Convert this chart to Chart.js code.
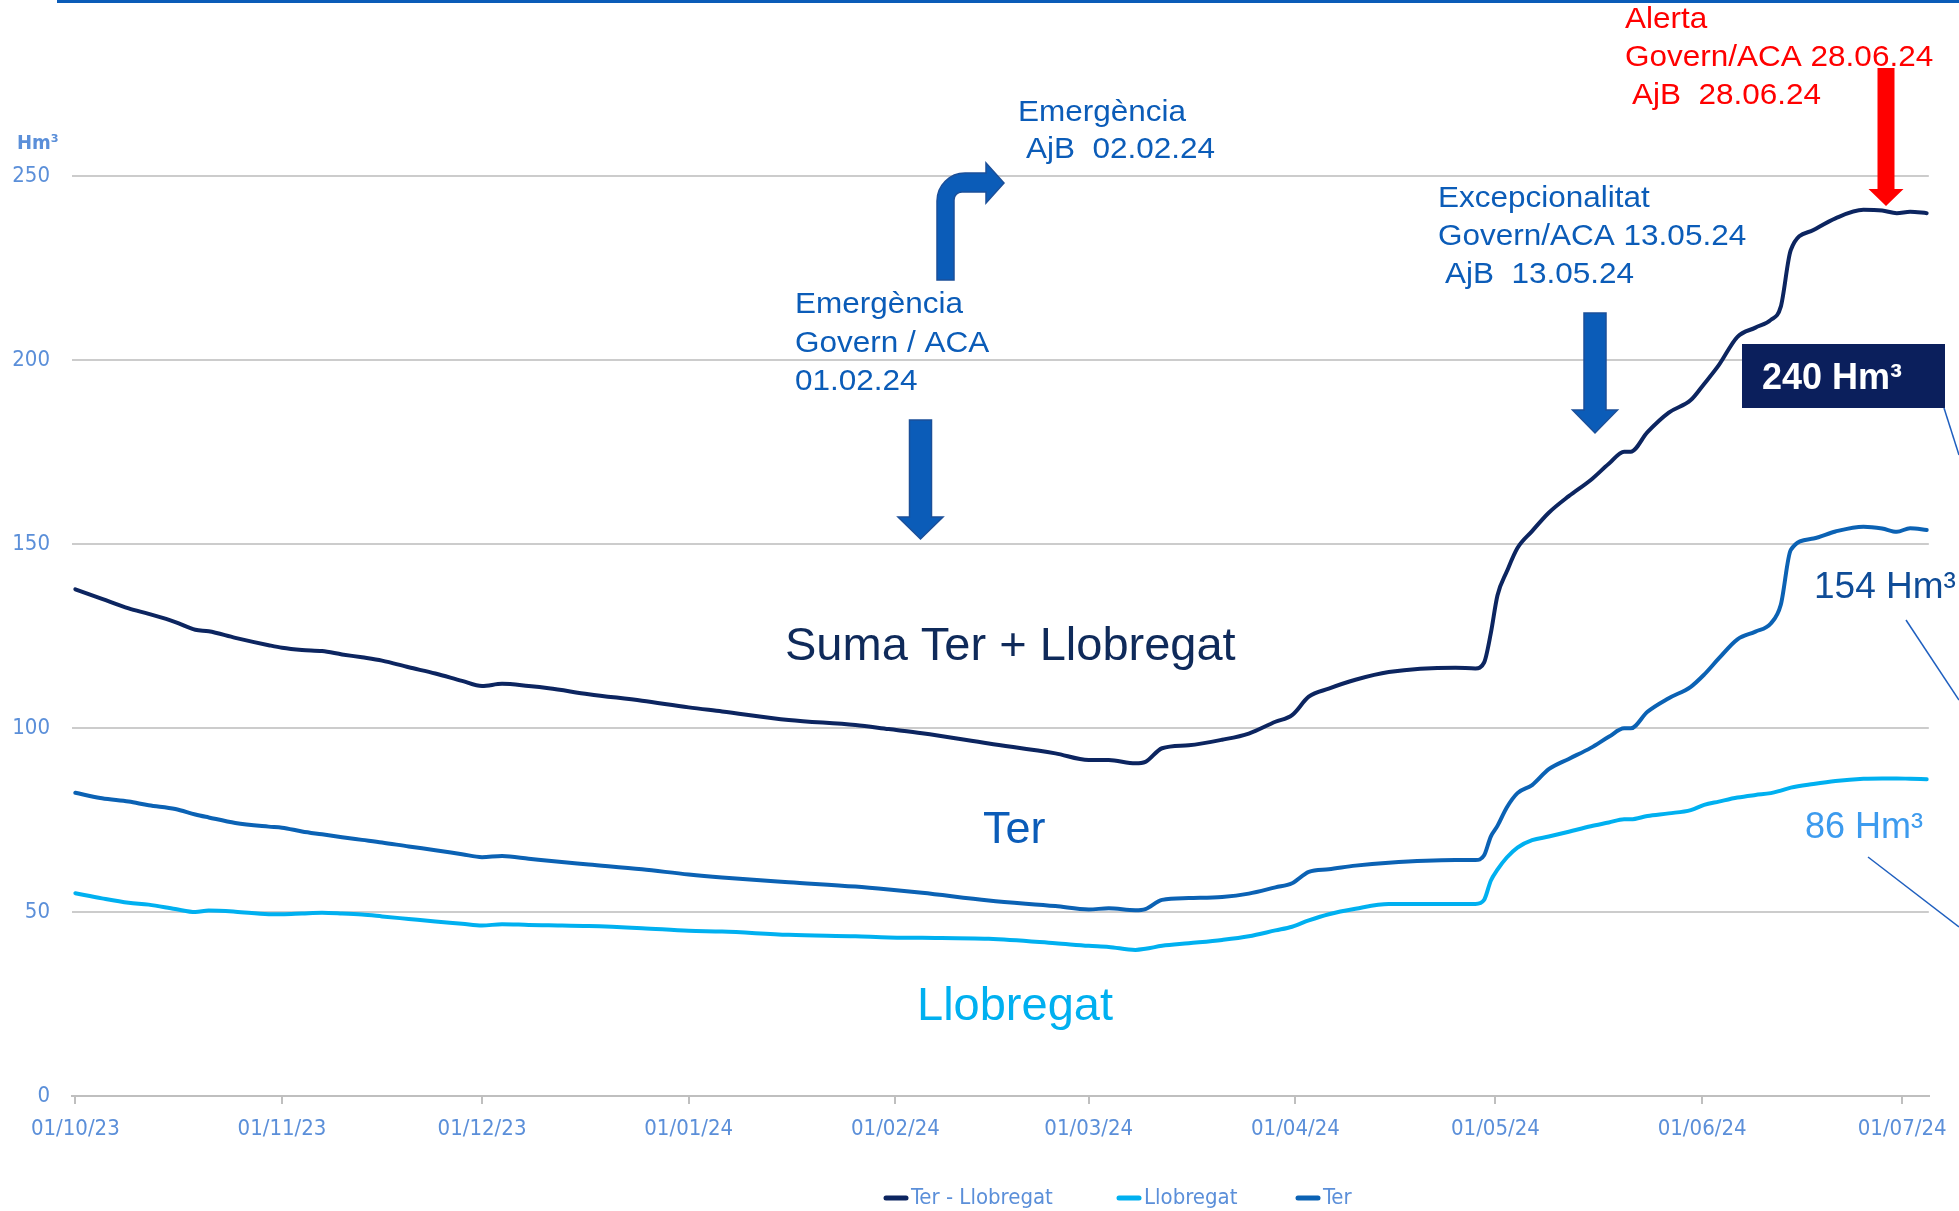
<!DOCTYPE html>
<html>
<head>
<meta charset="utf-8">
<script src="https://cdn.jsdelivr.net/npm/chart.js@4.4.1/dist/chart.umd.min.js"></script>
<style>
  html, body { margin: 0; padding: 0; background: #fff; }
  #wrap { width: 1959px; height: 1211px; position: relative; }
</style>
</head>
<body>
<div id="wrap"><canvas id="chart" width="1959" height="1211"></canvas></div>
<script>
// days counted from 01/10/23
const tickDays = [0, 31, 61, 92, 123, 152, 183, 213, 244, 274];
const tickLabels = ['01/10/23', '01/11/23', '01/12/23', '01/01/24', '01/02/24', '01/03/24', '01/04/24', '01/05/24', '01/06/24', '01/07/24'];
const seriesNames = ['Ter - Llobregat', 'Llobregat', 'Ter'];

const days = [0, 4, 8, 11, 15, 18, 20, 24, 29, 31, 34, 37, 40, 43, 46, 50, 54, 58, 61, 64,
  68, 71, 77, 85, 92, 97, 107, 117, 122, 127, 137, 147, 152, 155, 159, 160.5, 163, 167, 172, 176,
  180, 182.5, 185, 188, 192, 197, 207, 210, 211.3, 212.3, 213.3, 214.7, 216.3, 218.5, 221, 224, 227.3, 230, 232.3, 233.3,
  235.8, 239, 242.3, 244.3, 246.5, 249.3, 252, 254.3, 255.8, 257.3, 260.7, 264, 268.2, 271, 273.2, 275.2, 277.7];

const terLlobregat = [137.7, 135.1, 132.5, 131, 128.8, 126.7, 126.3, 124.5, 122.5, 121.8, 121.2, 120.9, 120, 119.2, 118.3, 116.5, 114.8, 112.8, 111.4, 112,
  111.4, 110.8, 109.2, 107.4, 105.6, 104.5, 102.2, 100.8, 99.7, 98.6, 95.8, 93.1, 91.3, 91.3, 90.4, 90.8, 94.5, 95.3, 96.8, 98.5,
  101.7, 103.5, 108.5, 110.7, 113.1, 115.2, 116.4, 116.2, 117.8, 125.7, 136, 142.5, 148.9, 153.5, 158.5, 163, 167.4, 171.8, 175.1, 175.1,
  180.4, 185.7, 189.1, 193.5, 198.6, 206.3, 208.8, 210.9, 214.5, 229.9, 235.3, 238.5, 240.8, 240.6, 239.9, 240.3, 239.9];

const ter = [82.4, 80.9, 80, 79, 78, 76.5, 75.7, 74.2, 73.2, 72.9, 71.9, 71.1, 70.3, 69.6, 68.9, 67.8, 66.8, 65.7, 64.9, 65.2,
  64.5, 63.9, 62.9, 61.6, 60.2, 59.4, 58.1, 56.9, 56.1, 55.2, 53.1, 51.6, 50.7, 51, 50.5, 50.8, 53.3, 53.8, 54.1, 55,
  56.7, 57.8, 60.9, 61.6, 62.6, 63.4, 64.1, 64.1, 65.4, 70.5, 73.4, 78.4, 82.3, 84.5, 88.8, 91.6, 94.6, 97.6, 99.9, 99.9,
  104.4, 108.1, 111.2, 114.5, 118.9, 124.1, 126.2, 128.4, 133.5, 148.4, 151.5, 153.4, 154.7, 154.2, 153.3, 154.3, 153.8];

const llobregat = [55.1, 53.7, 52.5, 52, 50.8, 50, 50.4, 50.1, 49.4, 49.4, 49.6, 49.8, 49.6, 49.3, 48.8, 48.1, 47.4, 46.8, 46.3, 46.7,
  46.5, 46.4, 46.2, 45.6, 44.9, 44.7, 43.8, 43.4, 43.1, 43, 42.7, 41.5, 40.8, 40.5, 39.7, 40, 40.8, 41.5, 42.4, 43.4,
  45, 46, 47.7, 49.4, 50.9, 52.2, 52.2, 52.2, 53.3, 58.5, 61.5, 64.8, 67.5, 69.5, 70.5, 71.8, 73.3, 74.3, 75.2, 75.2,
  76.1, 76.8, 77.7, 79.1, 80, 81.1, 81.8, 82.3, 83, 83.8, 84.8, 85.6, 86.2, 86.3, 86.3, 86.2, 86.1];

const colors = ['#0c2560', '#00b0f0', '#0b62b4'];
const tickFont = "'DejaVu Sans Condensed', 'Liberation Sans Narrow', 'DejaVu Sans', sans-serif";
const textFont = "'Liberation Sans', Arial, sans-serif";
const tickColor = '#5b8fd9';
const annBlue = '#0b5cb8';

function toPoints(vals) {
  return vals.map((v, i) => ({ x: days[i], y: v }));
}

function text(ctx, str, x, y, font, color, sx) {
  ctx.save();
  ctx.font = font;
  ctx.fillStyle = color;
  ctx.textBaseline = 'alphabetic';
  ctx.textAlign = 'left';
  ctx.translate(x, y);
  ctx.scale(sx || 1, 1);
  ctx.fillText(str, 0, 0);
  ctx.restore();
}

function downArrow(ctx, cx, top, shaftW, headW, headTop, tip, fill, stroke) {
  ctx.save();
  ctx.beginPath();
  ctx.moveTo(cx - shaftW / 2, top);
  ctx.lineTo(cx + shaftW / 2, top);
  ctx.lineTo(cx + shaftW / 2, headTop);
  ctx.lineTo(cx + headW / 2, headTop);
  ctx.lineTo(cx, tip);
  ctx.lineTo(cx - headW / 2, headTop);
  ctx.lineTo(cx - shaftW / 2, headTop);
  ctx.closePath();
  ctx.fillStyle = fill;
  ctx.fill();
  if (stroke) { ctx.strokeStyle = stroke; ctx.lineWidth = 1.5; ctx.stroke(); }
  ctx.restore();
}

const annotate = {
  id: 'annotate',
  afterDraw(chart) {
    const ctx = chart.ctx;
    const f30 = '30px ' + textFont;

    // top rule
    ctx.fillStyle = '#0a5cb8';
    ctx.fillRect(57, 0, 1902, 3);

    // unit
    text(ctx, 'Hm³', 17, 149, 'bold 20px ' + tickFont, tickColor);

    // Emergència AjB + bent arrow
    text(ctx, 'Emergència', 1018, 121, f30, annBlue, 1.05);
    text(ctx, 'AjB  02.02.24', 1026, 158, f30, annBlue, 1.05);
    ctx.save();
    ctx.beginPath();
    ctx.moveTo(937, 280);
    ctx.lineTo(937, 201);
    ctx.arcTo(937, 173, 965, 173, 28);
    ctx.lineTo(986, 173);
    ctx.lineTo(986, 163);
    ctx.lineTo(1004, 183);
    ctx.lineTo(986, 203);
    ctx.lineTo(986, 192);
    ctx.lineTo(962, 192);
    ctx.arcTo(954, 192, 954, 200, 8);
    ctx.lineTo(954, 280);
    ctx.closePath();
    ctx.fillStyle = annBlue;
    ctx.fill();
    ctx.strokeStyle = '#1b4f99';
    ctx.lineWidth = 1.5;
    ctx.stroke();
    ctx.restore();

    // Emergència Govern / ACA
    text(ctx, 'Emergència', 795, 313, f30, annBlue, 1.05);
    text(ctx, 'Govern / ACA', 795, 352, f30, annBlue, 1.05);
    text(ctx, '01.02.24', 795, 390, f30, annBlue, 1.05);
    downArrow(ctx, 920.5, 420, 22, 45, 517, 539, annBlue, '#1b4f99');

    // Excepcionalitat
    text(ctx, 'Excepcionalitat', 1438, 207, f30, annBlue, 1.05);
    text(ctx, 'Govern/ACA 13.05.24', 1438, 245, f30, annBlue, 1.05);
    text(ctx, 'AjB  13.05.24', 1445, 283, f30, annBlue, 1.05);
    downArrow(ctx, 1595, 313, 22, 45, 410, 433, annBlue, '#1b4f99');

    // Alerta
    text(ctx, 'Alerta', 1625, 28, f30, '#ff0000', 1.05);
    text(ctx, 'Govern/ACA 28.06.24', 1625, 66, f30, '#ff0000', 1.05);
    text(ctx, 'AjB  28.06.24', 1632, 104, f30, '#ff0000', 1.05);
    downArrow(ctx, 1886, 68, 17, 35, 189, 206, '#ff0000');

    // series captions
    text(ctx, 'Suma Ter + Llobregat', 785, 660, '47px ' + textFont, '#0f2a5a');
    text(ctx, 'Ter', 983, 843, '45px ' + textFont, '#0b5cb8');
    text(ctx, 'Llobregat', 917, 1020, '47px ' + textFont, '#00b0f0');

    // end values
    ctx.fillStyle = '#0b1f5c';
    ctx.fillRect(1742, 344, 203, 64);
    text(ctx, '240 Hm³', 1762, 389, 'bold 36px ' + textFont, '#ffffff');
    text(ctx, '154 Hm³', 1814, 598, '37px ' + textFont, '#0f4c97');
    text(ctx, '86 Hm³', 1805, 838, '36px ' + textFont, '#3d9bee');

    ctx.save();
    ctx.strokeStyle = '#1f5fbf';
    ctx.lineWidth = 1.5;
    [[1944, 408, 1959, 455], [1906, 620, 1959, 700], [1868, 857, 1959, 927]].forEach(l => {
      ctx.beginPath(); ctx.moveTo(l[0], l[1]); ctx.lineTo(l[2], l[3]); ctx.stroke();
    });
    ctx.restore();

    // legend
    const legendX = [883, 1116, 1295];
    const legendY = 1198;
    chart.data.datasets.forEach((ds, i) => {
      ctx.save();
      ctx.strokeStyle = ds.borderColor;
      ctx.lineWidth = 5;
      ctx.lineCap = 'round';
      ctx.beginPath();
      ctx.moveTo(legendX[i] + 3, legendY);
      ctx.lineTo(legendX[i] + 23, legendY);
      ctx.stroke();
      ctx.font = '22px ' + tickFont;
      ctx.fillStyle = tickColor;
      ctx.textBaseline = 'middle';
      ctx.fillText(ds.label, legendX[i] + 28, legendY);
      ctx.restore();
    });
  }
};

const ctx = document.getElementById('chart').getContext('2d');
const chart = new Chart(ctx, {
  type: 'line',
  data: {
    datasets: [
      { label: seriesNames[0], data: toPoints(terLlobregat), borderColor: colors[0] },
      { label: seriesNames[1], data: toPoints(llobregat), borderColor: colors[1] },
      { label: seriesNames[2], data: toPoints(ter), borderColor: colors[2] }
    ].map(d => Object.assign(d, {
      backgroundColor: d.borderColor,
      borderWidth: 4,
      pointRadius: 0,
      cubicInterpolationMode: 'monotone',
      borderCapStyle: 'round',
      borderJoinStyle: 'round',
      fill: false
    }))
  },
  options: {
    responsive: false,
    animation: false,
    devicePixelRatio: 1,
    layout: { padding: { top: 176, right: 29, bottom: 55, left: 0 } },
    plugins: {
      legend: { display: false },
      tooltip: { enabled: false }
    },
    scales: {
      x: {
        type: 'linear',
        min: -0.5,
        max: 278,
        afterBuildTicks(scale) {
          scale.ticks = tickDays.map(v => ({ value: v }));
        },
        afterFit(scale) { scale.height = 60; },
        ticks: {
          autoSkip: false,
          maxRotation: 0,
          padding: 12,
          color: tickColor,
          font: { family: tickFont, size: 22 },
          callback: (v, i) => tickLabels[i]
        },
        grid: { drawOnChartArea: false, tickLength: 8, color: '#bfbfbf', lineWidth: 2 },
        border: { color: '#bfbfbf', width: 2 }
      },
      y: {
        min: 0,
        max: 250,
        afterFit(scale) { scale.width = 72; },
        ticks: {
          stepSize: 50,
          padding: 22,
          color: tickColor,
          font: { family: tickFont, size: 22 }
        },
        grid: { color: '#cccccc', lineWidth: 2, drawTicks: false },
        border: { display: false }
      }
    }
  },
  plugins: [annotate]
});
</script>
</body>
</html>
